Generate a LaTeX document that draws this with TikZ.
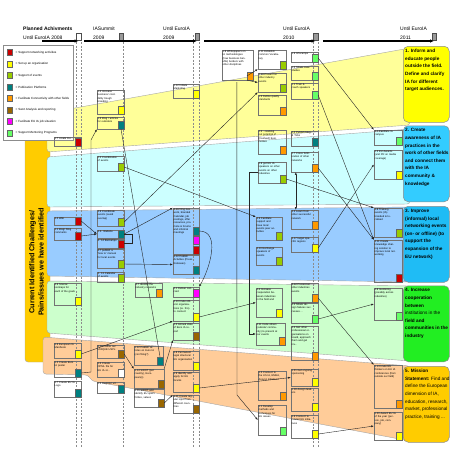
\documentclass[tikz,border=0pt]{standalone}
\usepackage{fontspec}
\setmainfont{Liberation Sans}
\usetikzlibrary{arrows.meta, calc}

\definecolor{eured}{HTML}{CC0000}
\definecolor{euyellow}{HTML}{FFFF00}
\definecolor{euolive}{HTML}{99CC00}
\definecolor{euteal}{HTML}{008080}
\definecolor{euorange}{HTML}{FF9900}
\definecolor{eubrown}{HTML}{996600}
\definecolor{eumagenta}{HTML}{FF00FF}
\definecolor{eulgreen}{HTML}{66FF66}
\definecolor{bandyellow}{HTML}{FFFF99}
\definecolor{bandcyan}{HTML}{CCFFFF}
\definecolor{bandblue}{HTML}{99CCFF}
\definecolor{bandgreen}{HTML}{CCFFCC}
\definecolor{bandpeach}{HTML}{FFCC99}
\definecolor{goalgold}{HTML}{FFCC00}
\definecolor{goalcyan}{HTML}{33CCFF}
\definecolor{goalblue}{HTML}{1FBCF5}
\definecolor{goalgreen}{HTML}{22EE22}

% a task: box, its text and the flag in its corner
% #1 name, #2 x, #3 y, #4 width, #5 height, #6 flag colour, #7 text
\newcommand{\addtask}[7]{%
  \pgfmathsetmacro{\taskw}{#4-6.5}%
  \node[task, minimum width=#4pt, minimum height=#5pt] (#1) at (#2+#4/2, #3+#5/2) {};
  \node[tasktext, text width=\taskw pt, anchor=north west] (#1-t) at (#1.north west) {#7};
  \node[flag, fill=#6, anchor=south east] (#1-f) at (#1.south east) {};
}

\begin{document}
\begin{tikzpicture}[x=1pt, y=-1pt,
    task/.style={draw=black!55, line width=0.35pt, inner sep=0pt},
    tasktext/.style={inner sep=0.7pt, align=left, font=\fontsize{2.6}{3.3}\selectfont},
    flag/.style={draw=black!60, line width=0.3pt, minimum width=6pt, minimum height=8pt, inner sep=0pt},
    band/.style={draw=black!35, line width=0.4pt, rounded corners=3pt},
    goal/.style={draw=black!45, line width=0.5pt, rounded corners=5pt, minimum width=46pt, minimum height=76pt, inner sep=0pt},
    goaltext/.style={inner sep=0pt, align=left, font=\fontsize{4.7}{7.6}\selectfont\bfseries},
    conn/.style={draw=black!85, line width=0.4pt, -{Latex[length=2.6pt,width=2pt]}},
    line/.style={draw=black!85, line width=0.4pt},
    guide/.style={draw=black!45, line width=0.4pt, dash pattern=on 2pt off 1.5pt},
    timeline/.style={line width=1.2pt, -{Latex[length=4pt,width=3.5pt]}},
    milestone/.style={draw=black!70, fill=black!40, line width=0.4pt, minimum width=4.5pt, minimum height=7pt, inner sep=0pt},
    head/.style={anchor=west, inner sep=0pt, font=\fontsize{5}{5.5}\selectfont},
    swatch/.style={draw=black!60, line width=0.3pt, minimum width=5pt, minimum height=6pt, inner sep=0pt},
    legtext/.style={anchor=west, inner sep=0pt, font=\fontsize{3}{3.4}\selectfont}]

    \useasboundingbox (0,0) rectangle (453,453);

    % ==========================================
    % CHALLENGES BAR AND BANDS
    % ==========================================
    \fill[goalgold, draw=black!35, line width=0.4pt, rounded corners=3pt] (25,137) rectangle (50,362);

    \filldraw[band, fill=bandyellow] (47,113) -- (410,48) -- (410,125) -- (47,152) -- cycle;
    \filldraw[band, fill=bandcyan] (47,157) -- (410,129) -- (410,204) -- (47,207) -- cycle;
    \filldraw[band, fill=bandblue] (47,211) -- (410,207) -- (410,282) -- (47,276) -- cycle;
    \filldraw[band, fill=bandgreen] (47,281) -- (410,286) -- (410,361) -- (47,333) -- cycle;
    \filldraw[band, fill=bandpeach] (43,337) -- (410,366) -- (410,441) -- (92,381) -- (88,375) -- (43,374) -- cycle;

    \node[rotate=90, align=center, inner sep=0pt, font=\fontsize{7.2}{9.4}\selectfont\bfseries] (pains) at (36.5,262)
        {Current Identified Challenges/\\Pains/issues we have identified};

    % ==========================================
    % TIMELINE
    % ==========================================
    \foreach \x in {76,81,123,193,199,313,318}
        \draw[guide] (\x,35) -- (\x,447);

    \node[head, font=\fontsize{5}{5.5}\selectfont\bfseries] (plan) at (23,29) {Planned Achivments};
    \node[head] (until8) at (23,38) {Until EuroIA 2008};
    \node[head] (summit) at (93,29) {IASummit};
    \node[head] (summit9) at (93,38) {2009};
    \node[head] (until9) at (163,29) {Until EuroIA};
    \node[head] (until9y) at (163,38) {2009};
    \node[head] (until10) at (283,29) {Until EuroIA};
    \node[head] (until10y) at (283,38) {2010};
    \node[head] (until11) at (400,29) {Until EuroIA};
    \node[head] (until11y) at (400,38) {2011};

    \node[milestone, fill=white] (m0) at (78.5,36.5) {};
    \node[milestone] (m1) at (121,36.5) {};
    \node[milestone] (m2) at (197,36.5) {};
    \node[milestone] (m3) at (315.5,36.5) {};
    \node[milestone] (m4) at (434,36.5) {};

    \coordinate (s0) at (42,41);
    \draw[timeline] (s0) -- (m0.south |- s0);
    \draw[timeline] ([xshift=3pt]m0.south east |- s0) -- (m2.south |- s0);
    \draw[timeline] ([xshift=5pt]m2.south east |- s0) -- (m3.south |- s0);
    \draw[timeline] ([xshift=5pt]m3.south east |- s0) -- (m4.south |- s0);

    % ==========================================
    % LEGEND
    % ==========================================
    \node[draw=black!45, fill=white, line width=0.4pt, minimum width=70pt, minimum height=95pt, inner sep=0pt] (legend) at (38,92.5) {};
    \foreach \col/\txt [count=\i] in {eured/Support networking activities, euyellow/Set up an organisation,
        euolive/Support of events, euteal/Publication Platforms, euorange/Facilitate Connectivity with other fields,
        eubrown/Swot Analysis and reporting, eumagenta/Facilitate EU IA job situation, eulgreen/Support Mentoring Programs} {
        \node[swatch, fill=\col] (sw\i) at (9.5, 41+11.5*\i) {};
        \node[legtext] (lg\i) at (15.5, 41+11.5*\i) {= \txt};
    }

    % ==========================================
    % GOAL 1 (YELLOW)
    % ==========================================
    \addtask{t17}{54}{137}{27}{9}{eured}{1.7 create Eu...}
    \addtask{t14}{97}{90}{27}{24}{euyellow}{1.4 increase business/ credibility trough branding}
    \addtask{t16}{97}{117}{27}{12}{euteal}{1.6 Blog / articles for outsiders}
    \addtask{t112}{173}{84}{26}{14}{euyellow}{1.12 Initiate Marketing}
    \addtask{t18}{222}{50}{31}{30}{euorange}{1.8 Whitepapers on IA methodologies (how business benefits) borders with other disciplines}
    \addtask{t111}{258}{50}{28}{19}{euolive}{1.11 Establish common Vocabulary}
    \addtask{t110}{258}{73}{28}{19}{euolive}{1.10 Present at other industry events}
    \addtask{t15}{258}{95}{28}{20}{euorange}{1.5 Define quality standards}
    \addtask{t19}{291}{52}{27}{10}{eulgreen}{1.9 Infocamps}
    \addtask{t12}{291}{66}{27}{14}{eulgreen}{1.2 Share case studies}
    \addtask{t11}{291}{83}{27}{16}{eulgreen}{1.1 Train \& coach speakers}

    % ==========================================
    % GOAL 2 (CYAN)
    % ==========================================
    \addtask{t22}{97}{156}{27}{15}{euolive}{2.2 Coordination of events}
    \addtask{t25}{258}{130}{28}{24}{euorange}{2.5 ...seeking out potential of (involved) businesses}
    \addtask{t24}{291}{131}{27}{15}{euteal}{2.4 Publish blog \& Ticks}
    \addtask{t27}{291}{152}{27}{20}{euorange}{2.7 Cross fertilization of other networks}
    \addtask{t28}{258}{162}{28}{21}{euolive}{2.8 get EU IA speakers on other events on other industries}
    \addtask{t21}{374}{130}{28}{15}{eulgreen}{2.1 Facilitate IA campus}
    \addtask{t23}{374}{150}{28}{29}{euyellow}{2.3 EU Awards (and PR on media coverage)}

    % ==========================================
    % GOAL 3 (BLUE)
    % ==========================================
    \addtask{t34}{54}{217}{27}{8}{eured}{3.4 Wiki}
    \addtask{t31}{54}{228}{27}{12}{eured}{3.1 Blog/ Ning comments}
    \addtask{t36}{97}{210}{27}{16}{euolive}{3.6 Coordinate events (avoid overlap)}
    \addtask{t33}{97}{230}{27}{8}{euteal}{3.3. Website}
    \addtask{t314}{97}{239}{27}{9}{eured}{3. 14 Barcamps}
    \addtask{t37}{97}{249}{27}{19}{euolive}{3.7 publish a `how to' manual for local events}
    \addtask{t313}{97}{272}{27}{10}{euolive}{3. 13 Calendar of events}
    \addtask{t316}{173}{208}{26}{46}{eured}{3.16 Ning network, branded Calendar, job postings, offer resources, promote \& forums and informal meetings}
    \node[flag, fill=eumagenta, anchor=south east] (t316-f2) at ([yshift=9.5pt]t316.south east) {};
    \node[flag, fill=euteal, anchor=south east] (t316-f3) at ([yshift=19pt]t316.south east) {};
    \addtask{t312}{173}{255}{26}{19}{euteal}{3.12 Publish Activities (Press Releases)}
    \addtask{t39}{256}{217}{26}{23}{euolive}{3.9 Facilitate support and have local events peer activities}
    \addtask{t310}{256}{247}{26}{18}{euolive}{3.10 Exchange speakers of events}
    \addtask{t32}{291}{210}{27}{19}{euorange}{3.2 Learn from other successful network}
    \addtask{t317}{291}{237}{27}{15}{euyellow}{3.17 target specific regions}
    \addtask{t38}{374}{208}{28}{29}{euolive}{3.8 Training events (IA) branded \& localised}
    \addtask{t311}{374}{240}{28}{42}{eured}{3.11 Create knowledge sharing solution to improve local networking}

    % ==========================================
    % GOAL 4 (GREEN)
    % ==========================================
    \addtask{t46}{54}{283}{27}{22}{euyellow}{4.6 Scenarios/maps for each of the goals}
    \addtask{t47}{135}{283}{27}{14}{euorange}{4.7 Identify the industry networks}
    \addtask{t41}{173}{287}{26}{10}{eumagenta}{4.1 Deliver Listcard}
    \addtask{t410}{173}{300}{26}{21}{euyellow}{4.10 Invite others/ organisations (ie. tho). to connect}
    \addtask{t43}{173}{323}{26}{17}{eubrown}{4.3 Annual state of Euro IA report}
    \addtask{t44}{256}{288}{26}{29}{euyellow}{4.4 Increase cooperation between industries in the field and}
    \addtask{t412}{291}{283}{27}{19}{euorange}{4.12 Present at other industries events}
    \addtask{t42}{291}{303}{27}{20}{eulgreen}{4.2 Share design failures successes ...}
    \addtask{t411}{256}{323}{29}{22}{euorange}{4.11 Invite others (outside/ community) to present at our events}
    \addtask{t45}{291}{326}{27}{34}{euorange}{4.5 Get other professional organisations on board, approach them and get inv...}
    \addtask{t48}{374}{288}{28}{32}{eulgreen}{4.8 mentoring (possibly across industries)}

    % ==========================================
    % GOAL 5 (PEACH)
    % ==========================================
    \addtask{t56}{54}{343}{27}{15}{euyellow}{5.6 European IA Manifesto}
    \addtask{t52}{54}{361}{27}{16}{euteal}{5.2 Create Euro IA poster}
    \addtask{t57}{54}{381}{27}{16}{euteal}{5.7 Create EU IA Logo}
    \addtask{t510}{97}{345}{27}{13}{eubrown}{5.10 Define our UNIQUE USPs}
    \addtask{t54}{97}{362}{27}{15}{white}{5.4 Create OPML file for EU IA st...}
    \addtask{t55}{97}{382}{27}{11}{euteal}{5.5 Register url...}
    \addtask{t512}{134}{346}{29}{19}{euteal}{5.12 Publish articles on Euro IA (conf blog?)}
    \addtask{t514}{134}{369}{30}{19}{eubrown}{5.14 SWOT (per country), European(s)}
    \addtask{t516}{134}{389}{30}{18}{eubrown}{5.16 SWOT and identify EU specificities, values}
    \addtask{t58}{173}{351}{26}{19}{euyellow}{5.8 Permanent legal structure/ EU organisation}
    \addtask{t59}{173}{372}{26}{20}{euyellow}{5.9 identify and apply for EU Grants}
    \addtask{t511}{173}{395}{26}{18}{eubrown}{5.11 Create regular input from different countries}
    \addtask{t53}{258}{371}{28}{29}{euorange}{5.3 Connect to the US IA, EMEA, Asia IA Initiatives}
    \addtask{t51}{258}{405}{28}{30}{eulgreen}{5.1 Develop methods and techniques for EU issues}
    \addtask{t521}{291}{369}{27}{17}{euyellow}{5.21 Get ongoing sponsoring}
    \addtask{t518}{291}{388}{27}{23}{euyellow}{5.18 Assign leaders}
    \addtask{t5c}{291}{415}{27}{23}{euyellow}{5.6 Connect to related EU initiatives}
    \addtask{t513}{374}{365}{28}{43}{euorange}{5.13 Invite EU thinkers on EU IA conferences (from outside our field)}
    \addtask{t520}{374}{412}{28}{28}{euyellow}{5.20 Award EU IA of the year (person, job, company)}

    % ==========================================
    % CONNECTIONS
    % ==========================================
    \draw[conn] (t18-f.south west) -- (t110.west);
    \draw[conn] (t18-f.west) -- (t111.south west);
    \draw[conn] (t36-f.east) -- (t110.south west);
    \draw[conn] (t19-f.east) -- (t21.north west);
    \draw[conn] (t22-f.east) -- (t39.north west);
    \draw[conn] (t28-f.east) -- (t38.north west);
    \draw[conn] (t317-f.east) -- (t23.west);
    \draw[conn] (t27-f.east) -- (t311.north west);
    \draw[conn] (t11-f.east) -- (t311.north west);
    \draw[conn, {Latex[length=2.6pt,width=2pt]}-{Latex[length=2.6pt,width=2pt]}] ([xshift=5pt]t27.south west) -- ([xshift=5pt]t32.north west);
    \draw[conn] ([yshift=-2pt]t18.south west) ++(15,0) -- (237,395) -- (t51.west);
    \draw[conn] (t28.west) -- ++(-9,0) |- (t411.west);
    \draw[conn] (t34-f.east) -- (t33.west);
    \draw[conn] (t31-f.east) -- (t33.west);
    \draw[conn] (t33-f.east) -- (t316.north west);
    \draw[line] (t33.east) -| ($(t314.east)+(8,0)$) -- (t314.east);
    \draw[conn] (t37-f.east) -- (t312.west);
    \draw[conn] (t316.east) to[out=0, in=60] (t41.north east);
    \draw[conn] (t52-f.east) -- (91,372) -- (91,140) -- (t16.south west);
    \draw[line] (t16-f.south) -- (t512-f.north);
    \draw[conn] (t410-f.east) -- (t44.west);
    \draw[conn] (t56-f.east) -- (t410.south west);
    \draw[conn] (t514.north east) -- (t43.south west);
    \draw[conn] (t510-f.east) -- (t514.north west);
    \draw[conn] (t516-f.east) -- (t511.north west);
    \draw[conn] (t59-f.east) -- (t521.west);
    \draw[conn] (t5c-f.east) -- (t520.west);
    \draw[conn] (t42-f.east) -- (t48.west);
    \draw[conn] (t412-f.east) -- (t513.north west);

    % ==========================================
    % GOALS
    % ==========================================
    \node[goal, fill=euyellow, anchor=north west] (g1) at (403,46) {};
    \node[goaltext, anchor=north west] (g1t) at ([shift={(2,3)}]g1.north west)
        {1. Inform and\\educate people\\outside the field.\\Define and clarify\\IA for different\\target audiences.};
    \node[goal, fill=goalcyan, anchor=north west] (g2) at (403,125.5) {};
    \node[goaltext, anchor=north west] (g2t) at ([shift={(2,3)}]g2.north west)
        {2. Create\\awareness of IA\\practices in the\\work of other fields\\and connect them\\with the IA\\community \&\\knowledge};
    \node[goal, fill=goalblue, anchor=north west] (g3) at (403,206) {};
    \node[goaltext, anchor=north west] (g3t) at ([shift={(2,3)}]g3.north west)
        {3. Improve\\(informal) local\\networking events\\(on- or offline) (to\\support the\\expansion of the\\EU network)};
    \node[goal, fill=goalgreen, anchor=north west] (g4) at (403,285.5) {};
    \node[goaltext, anchor=north west] (g4t) at ([shift={(2,3)}]g4.north west)
        {4. Increase\\cooperation\\between\\\mdseries institutions in the\\field and\\communities in the\\industry};
    \node[goal, fill=goalgold, anchor=north west] (g5) at (403,366) {};
    \node[goaltext, anchor=north west, font=\fontsize{4.7}{7.6}\selectfont] (g5t) at ([shift={(2,3)}]g5.north west)
        {\textbf{5. Mission}\\\textbf{Statement:} Find and\\define the European\\dimension of IA,\\education, research,\\market, professional\\practice, training ...};

\end{tikzpicture}
\end{document}
